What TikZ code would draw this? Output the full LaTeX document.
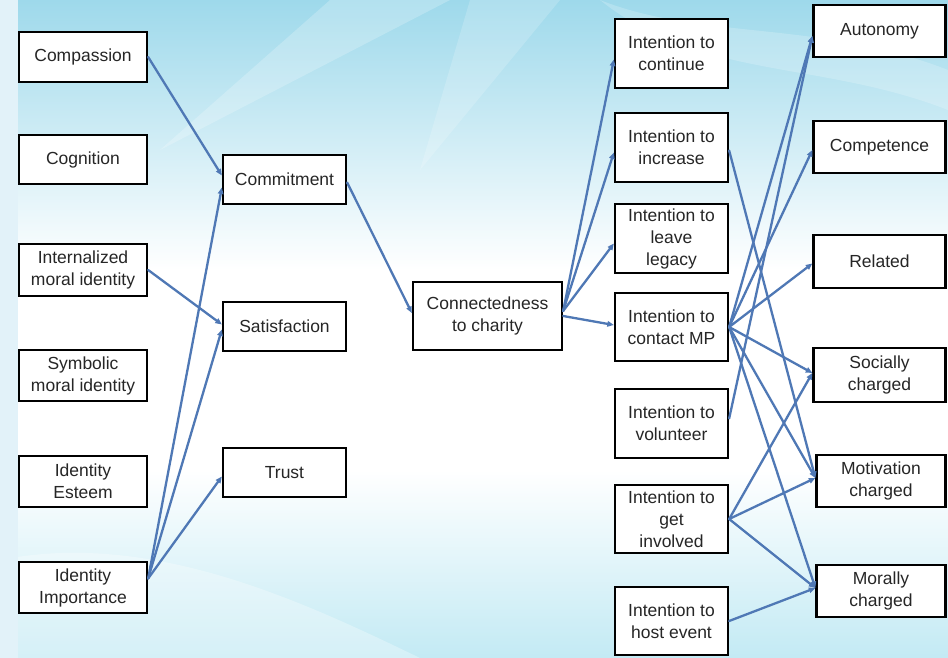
\documentclass[tikz,border=0pt]{standalone}
\usepackage{fontspec}
\setmainfont{Liberation Sans}
\usetikzlibrary{arrows.meta,calc}

\definecolor{linkblue}{HTML}{4F78B5}
\definecolor{textgray}{HTML}{262626}
\definecolor{skytop}{HTML}{9ED9EB}
\definecolor{skybot}{HTML}{C3EAF4}
\definecolor{panel}{HTML}{E2F2F9}

\begin{document}
\begin{tikzpicture}[x=1pt,y=-1pt,
  box/.style={draw=black, line width=2.3pt, fill=white, align=center,
    font=\fontsize{17.5}{22}\selectfont, text=textgray, inner sep=0pt},
  leftbox/.style={box, minimum width=128pt, minimum height=51pt},
  midbox/.style={box, minimum width=123pt, minimum height=49pt},
  intbox/.style={box, minimum width=113pt, minimum height=68pt},
  outbox/.style={box, minimum width=132pt, minimum height=52pt},
  link/.style={draw=linkblue, line width=2.3pt, line cap=round,
    -{Triangle[length=6.5pt,width=5.5pt]}},
]
% ---------- background ----------
\useasboundingbox (0,0) rectangle (948,658);
\fill[white] (0,0) rectangle (948,658);
\shade[top color=skytop, bottom color=white] (0,0) rectangle (948,270);
\shade[top color=white, bottom color=skybot] (0,470) rectangle (948,658);
% soft light streaks across the sky
\fill[white, opacity=0.22] (330,0) -- (450,0) -- (160,150) -- cycle;
\fill[white, opacity=0.18] (470,0) -- (560,0) -- (420,170) -- cycle;
\fill[white, opacity=0.2] (600,0) .. controls (700,40) and (820,20) .. (948,70)
  -- (948,110) .. controls (820,60) and (700,80) .. (600,0) -- cycle;
\fill[white, opacity=0.3] (0,560) .. controls (150,530) and (300,600) .. (420,658)
  -- (0,658) -- cycle;
\fill[panel] (0,0) rectangle (18,658);

% ---------- antecedents ----------
\node[leftbox, minimum height=50pt] (cmp)  at (83,57)    {Compassion};
\node[leftbox, minimum height=49pt] (cog)  at (83,159.5) {Cognition};
\node[leftbox, minimum height=52pt] (intm) at (83,270)   {Internalized\\moral identity};
\node[leftbox] (symm) at (83,375.5) {Symbolic\\moral identity};
\node[leftbox] (ide)  at (83,481.5) {Identity\\Esteem};
\node[leftbox] (imp)  at (83,587.5) {Identity\\Importance};

% ---------- relationship quality ----------
\node[midbox] (commit) at (284.5,179.5) {Commitment};
\node[midbox] (satis)  at (284.5,326.5) {Satisfaction};
\node[midbox] (trust)  at (284.5,472.5) {Trust};

\node[box, minimum width=149pt, minimum height=68pt] (conn) at (487.5,316)
  {Connectedness\\to charity};

% ---------- intentions ----------
\node[intbox, minimum height=69pt] (cont) at (671.5,53.5)  {Intention to\\continue};
\node[intbox, minimum height=69pt] (incr) at (671.5,147.5) {Intention to\\increase};
\node[intbox, minimum height=69pt] (leg)  at (671.5,238.5) {Intention to\\leave\\legacy};
\node[intbox, minimum height=68pt] (mp)   at (671.5,327)   {Intention to\\contact MP};
\node[intbox, minimum height=69pt] (vol)  at (671.5,423.5) {Intention to\\volunteer};
\node[intbox] (inv)  at (671.5,519) {Intention to\\get\\involved};
\node[intbox] (host) at (671.5,621) {Intention to\\host event};

% ---------- outcomes ----------
\node[outbox] (aut)  at (879.5,31)  {Autonomy};
\node[outbox] (comp) at (879.5,147) {Competence};
\node[outbox, minimum height=53pt] (rel) at (879.5,261.5) {Related};
\node[outbox, minimum height=54pt] (soc) at (879.5,375)   {Socially\\charged};
\node[outbox, minimum width=129pt] (mot) at (881,481)     {Motivation\\charged};
\node[outbox, minimum width=129pt] (mor) at (881,591)     {Morally\\charged};

% ---------- paths ----------
\coordinate (impout) at ($(imp.east)+(0,-9)$);
\draw[link] (cmp.east) -- ($(commit.west)+(0,-4)$);
\draw[link] (impout) -- ($(commit.west)+(0,8)$);
\draw[link] (intm.east) -- ($(satis.west)+(0,-2)$);
\draw[link] (impout) -- ($(satis.west)+(0,3)$);
\draw[link] (impout) -- ($(trust.west)+(0,4)$);

\draw[link] ($(commit.east)+(0,3)$) -- ($(conn.west)+(0,-3)$);

\coordinate (connout) at ($(conn.east)+(0,-5)$);
\draw[link] (connout) -- ($(cont.west)+(0,6)$);
\draw[link] (connout) -- ($(incr.west)+(0,5)$);
\draw[link] (connout) -- ($(leg.west)+(0,5)$);
\draw[link] (conn.east) -- ($(mp.west)+(0,-2)$);

\draw[link] ($(incr.east)+(0,3)$) -- ($(mot.west)+(0,-3)$);

\draw[link] (mp.east) -- ($(aut.west)+(0,5)$);
\draw[link] (mp.east) -- ($(comp.west)+(0,3)$);
\draw[link] (mp.east) -- ($(rel.west)+(0,2)$);
\draw[link] (mp.east) -- ($(soc.west)+(0,-2)$);
\draw[link] (mp.east) -- ($(mot.west)+(0,-3)$);
\draw[link] (mp.east) -- ($(mor.west)+(0,-3)$);

\draw[link] ($(vol.east)+(0,-5)$) -- ($(aut.west)+(0,5)$);

\draw[link] (inv.east) -- ($(soc.west)+(0,-2)$);
\draw[link] (inv.east) -- ($(mot.west)+(0,-3)$);
\draw[link] (inv.east) -- ($(mor.west)+(0,-3)$);

\draw[link] (host.east) -- ($(mor.west)+(0,-3)$);
\end{tikzpicture}
\end{document}
